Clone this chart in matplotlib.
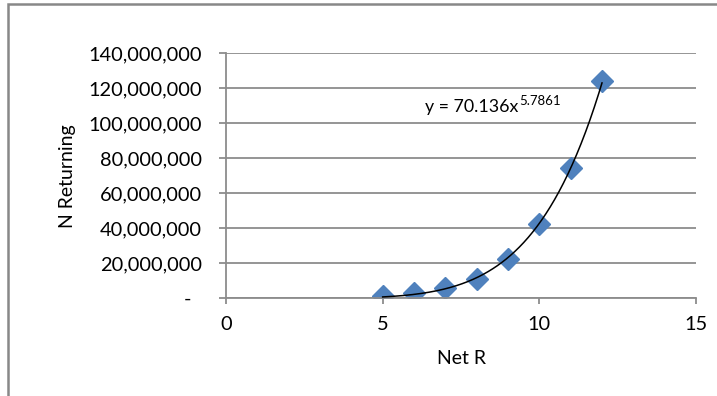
"""scatter of N returning vs net R with power trendline"""
import numpy as np
import matplotlib
matplotlib.use("Agg")
import matplotlib.pyplot as plt
from matplotlib.lines import Line2D
from matplotlib.ticker import FuncFormatter

# data
net_r = [5, 6, 7, 8, 9, 10, 11, 12]
n_returning = [1.3e6, 2.9e6, 5.7e6, 11.1e6, 22.6e6, 42.6e6, 74.6e6, 124.0e6]

# trendline shown on the chart: y = a * x^b
trend_a = 70.136
trend_b = 5.7861

plt.rcParams["font.family"] = ["Lato", "DejaVu Sans"]

W, H = 717, 396
fig = plt.figure(figsize=(W / 100, H / 100), dpi=100)
ax = fig.add_axes([226 / W, 1 - 298.3 / H, (696 - 226) / W, (298.3 - 53.3) / H])

grid_col = "#8c8c8c"

# trendline
xs = np.linspace(min(net_r), max(net_r), 200)
ax.plot(xs, trend_a * xs ** trend_b, color="black", lw=1.1, zorder=3)

# points
ax.plot(net_r, n_returning, linestyle="none", marker="D", markersize=11,
        color="#4f81bd", markeredgecolor="#4f81bd", zorder=2)

ax.set_xlim(0, 15)
ax.set_ylim(0, 140e6)
ax.set_xticks([0, 5, 10, 15])
ax.set_yticks(np.arange(0, 140e6 + 1, 20e6))
ax.yaxis.set_major_formatter(FuncFormatter(lambda v, p: "-  " if v == 0 else f"{int(v):,}"))

ax.grid(axis="y", color=grid_col, lw=1.3)
ax.set_axisbelow(True)
for s in ["top", "right"]:
    ax.spines[s].set_visible(False)
for s in ["left", "bottom"]:
    ax.spines[s].set_color(grid_col)
    ax.spines[s].set_linewidth(1.3)
ax.tick_params(axis="both", colors=grid_col, width=1.3, labelcolor="black", labelsize=14.4)
ax.tick_params(axis="y", length=5, pad=12.5)
ax.tick_params(axis="x", length=4, pad=9)

ax.set_xlabel("Net R", fontsize=14, labelpad=12)
ax.set_ylabel("N Returning", fontsize=14, labelpad=9)

# trendline equation
fig.text(425 / W, 1 - 111.7 / H, "y = 70.136x", fontsize=12.8, ha="left", va="baseline")
fig.text(519 / W, 1 - 105 / H, "5.7861", fontsize=9.5, ha="left", va="baseline")

# chart border (left and top edges)
top = 1 - 4 / H
fig.add_artist(Line2D([8 / W, 8 / W, 1.0], [0, top, top], transform=fig.transFigure,
                      color="#888888", lw=1.8, solid_joinstyle="miter"))

fig.savefig("out.png", dpi=100)
